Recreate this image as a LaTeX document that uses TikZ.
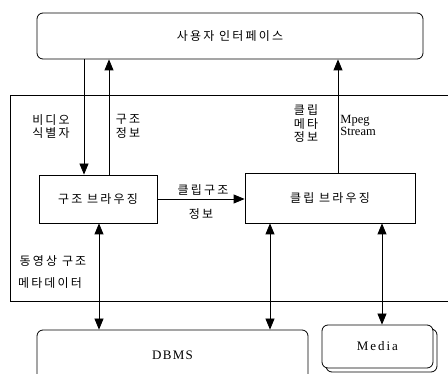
\documentclass[tikz,border=0pt]{standalone}
\usepackage{fontspec}
\setmainfont{Liberation Serif}
\newfontfamily\kr[LetterSpace=18]{Noto Sans CJK KR}
\usetikzlibrary{arrows.meta,shadows}
\begin{document}
\begin{tikzpicture}[x=1pt,y=-1pt,
  line width=0.8pt,
  arr/.style={-{Triangle[length=11pt,width=9pt]}},
  darr/.style={{Triangle[length=11pt,width=9pt]}-{Triangle[length=11pt,width=9pt]}},
  rbox/.style={draw, rounded corners=6pt, inner sep=0pt},
  sbox/.style={draw, inner sep=0pt},
  kl/.style={font=\kr\fontsize{12}{13.5}\selectfont, inner sep=0pt, align=center},
  ll/.style={inner sep=0pt, align=left, font=\fontsize{12.5}{11.5}\selectfont},
  ]
\useasboundingbox (0,0) rectangle (448,374);
\fill[white] (0,0) rectangle (448,374);
% container
\draw (450,95) -- (10,95) -- (10,301) -- (450,301);
% boxes
\node[rbox, kl, minimum width=386pt, minimum height=46pt] (ui) at (230,36) {사용자 인터페이스};
\node[sbox, kl, minimum width=118pt, minimum height=48pt] (sb) at (98,199) {구조 브라우징};
\node[sbox, kl, minimum width=170pt, minimum height=50pt] (cb) at (330,198) {클립 브라우징};
\node[rbox, minimum width=271pt, minimum height=50pt, font=\fontsize{13}{14}\selectfont\addfontfeature{LetterSpace=10}] (db) at (172.5,355) {DBMS};
\node[rbox, minimum width=111pt, minimum height=43pt, fill=white,
      copy shadow={shadow xshift=4pt, shadow yshift=-4pt, fill=white, draw=black},
      font=\fontsize{13}{14}\selectfont\addfontfeature{LetterSpace=15}] (md) at (377.5,346.5) {Media};
% x positions of connectors
\coordinate (xa) at (84,0);
\coordinate (xb) at (109,0);
\coordinate (xc) at (338,0);
\coordinate (xd) at (99,0);
\coordinate (xe) at (270,0);
\coordinate (xf) at (382,0);
% connectors
\draw[arr] (ui.south -| xa) -- (sb.north -| xa);
\draw[arr] (sb.north -| xb) -- (ui.south -| xb);
\draw[arr] (cb.north -| xc) -- (ui.south -| xc);
\draw[arr] (sb.east) -- (cb.west |- sb.east);
\draw[darr] (sb.south -| xd) -- (db.north -| xd);
\draw[darr] (cb.south -| xe) -- (db.north -| xe);
\draw[darr] (cb.south -| xf) -- (md.north -| xf);
% labels
\node[kl] (l1) at (51,126.5) {비디오\\식별자};
\node[kl] (l2) at (128,126.5) {구조\\정보};
\node[kl] (l3) at (306,124) {클립\\메타\\정보};
\node[ll, anchor=west] (l4) at (340,125.5) {Mpeg\\Stream};
\node[kl] (l5) at (203,190) {클립구조};
\node[kl] (l6) at (201,214) {정보};
\node[kl] (l7) at (53,261) {동영상 구조};
\node[kl] (l8) at (50,283) {메타데이터};
\end{tikzpicture}
\end{document}
